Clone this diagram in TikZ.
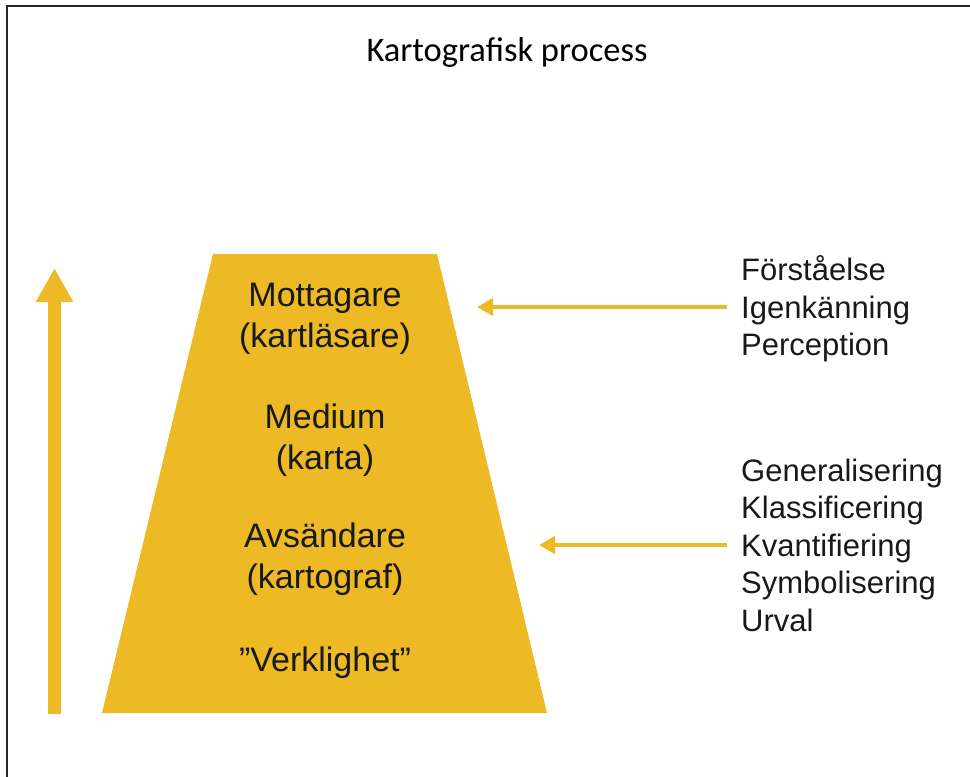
\documentclass[tikz,border=0pt]{standalone}
\usepackage{fontspec}
\setmainfont{Liberation Sans}
\newfontfamily\titlefont{Carlito}
\usetikzlibrary{arrows.meta}
\definecolor{gold}{RGB}{237,185,36}
\tikzset{
  layertext/.style={align=center, font=\fontsize{34}{41}\selectfont, text=black!90, inner sep=0pt},
  listtext/.style={align=left, anchor=west, font=\fontsize{31}{37.5}\selectfont, text=black!90, inner xsep=14pt, inner ysep=0pt},
  smallarrow/.style={draw=gold, line width=4pt, -{Triangle[length=16pt,width=17pt]}},
  bigarrow/.style={draw=gold, line width=13pt, -{Triangle[length=34pt,width=35pt]}},
}
\begin{document}
\begin{tikzpicture}[x=1pt,y=-1pt]
\useasboundingbox (0,0) rectangle (970,777);
% frame (cropped: left and top edges only)
\draw[line width=2pt, black!85] (7,777) -- (7,6) -- (970,6);
% title
\node[font=\titlefont\fontsize{34.5}{40}\selectfont] (title) at (507,52) {Kartografisk process};
% trapezoid
\fill[gold] (213,254) -- (437,254) -- (547,713) -- (102,713) -- cycle;
\node[layertext] (mottagare) at (325,319) {Mottagare\\(kartläsare)};
\node[layertext] (medium) at (325,440) {Medium\\(karta)};
\node[layertext] (avsandare) at (325,559) {Avsändare\\(kartograf)};
\node[layertext] (verklighet) at (325,663) {”Verklighet”};
% vertical arrow
\coordinate (vbottom) at (54.5,714);
\coordinate (vtop) at (54.5,268);
\draw[bigarrow] (vbottom) -- (vtop);
% right lists
\node[listtext] (list1) at (727,309) {Förståelse\\Igenkänning\\Perception};
\node[listtext] (list2) at (727,545) {Generalisering\\Klassificering\\Kvantifiering\\Symbolisering\\Urval};
\coordinate (tip1) at (477,307);
\coordinate (tip2) at (539,545);
\draw[smallarrow] (list1.west |- tip1) -- (tip1);
\draw[smallarrow] (list2.west) -- (tip2);
\end{tikzpicture}
\end{document}
